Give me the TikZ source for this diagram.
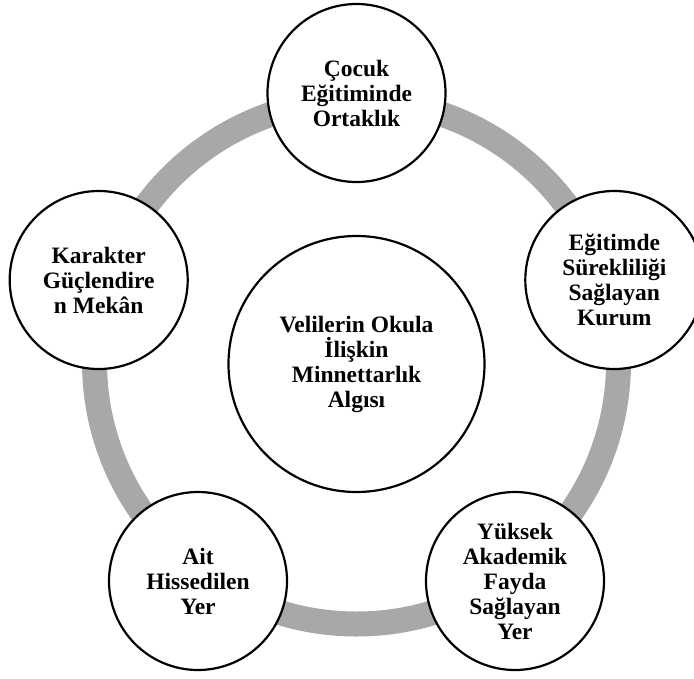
\documentclass[tikz,border=0pt]{standalone}
\usepackage{fontspec}
\setmainfont{Liberation Serif}
\usetikzlibrary{calc}
\definecolor{ringgray}{RGB}{168,168,168}
\tikzset{
  every node/.style={font=\fontsize{23.5}{25}\selectfont\bfseries, align=center},
  outer/.style={circle, draw=black, line width=2.2pt, fill=white, minimum size=178pt, inner sep=0pt},
  inner/.style={circle, draw=black, line width=2.2pt, fill=white, minimum size=256pt, inner sep=0pt},
  ring/.style={draw=ringgray, line width=25pt}
}
\begin{document}
\begin{tikzpicture}[x=1pt,y=-1pt]
\useasboundingbox (0,0) rectangle (694,678);
\clip (0,0) rectangle (694,678);
\coordinate (c) at (356.5,362);
\draw[ring] (c) circle[radius=262];
\node[inner] (center) at (356.5,364) {Velilerin Okula\\İlişkin\\Minnettarlık\\Algısı};
\node[outer] (top) at ($(c)+(0,-269)$) {Çocuk\\Eğitiminde\\Ortaklık};
\node[outer] (left) at ($(c)+(-257.8,-82)$) {Karakter\\Güçlendire\\n Mekân};
\node[outer] (right) at ($(c)+(257.8,-82)$) {Eğitimde\\Sürekliliği\\Sağlayan\\Kurum};
\node[outer] (bl) at ($(c)+(-158.5,219)$) {Ait\\Hissedilen\\Yer};
\node[outer] (br) at ($(c)+(158.5,219)$) {Yüksek\\Akademik\\Fayda\\Sağlayan\\Yer};
\end{tikzpicture}
\end{document}
